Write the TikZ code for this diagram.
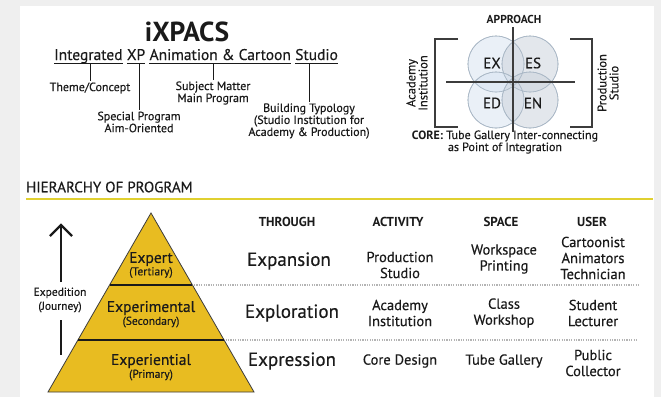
\documentclass[tikz,border=0pt]{standalone}
\usepackage{fontspec}
\setmainfont{PT Sans}[UprightFeatures={FakeBold=0.35}]
\usetikzlibrary{arrows.meta,calc}
\definecolor{bggray}{HTML}{EFEFEF}
\definecolor{ink}{HTML}{1A1A1A}
\definecolor{pyr}{HTML}{E8BC21}
\definecolor{yline}{HTML}{E0D030}
\definecolor{cblue}{HTML}{D9E5F2}
\definecolor{cgray}{HTML}{CDD4DD}
\definecolor{cedge}{HTML}{AAB8C6}
\definecolor{dotc}{HTML}{B4B4B4}
\begin{document}
\begin{tikzpicture}[x=1pt,y=-1pt,
  every node/.style={text=ink},
  word/.style={inner sep=0pt,font=\fontsize{15.5}{16}\selectfont,anchor=base west},
  sub/.style={align=center,inner sep=1.5pt,font=\fontsize{12}{12}\selectfont},
  circ/.style={draw=cedge,line width=0.6pt,fill opacity=0.55},
  quad/.style={font=\fontsize{15}{15}\selectfont},
  side/.style={rotate=90,align=center,font=\fontsize{12.5}{12}\selectfont},
  bracketline/.style={line width=1.1pt,draw=ink!85},
  lvl/.style={align=center,font=\fontsize{15.5}{15}\selectfont,inner sep=0pt},
  lvlsub/.style={font=\fontsize{11.5}{11}\selectfont,inner sep=0pt},
  hdr/.style={font=\bfseries\fontsize{13}{13}\selectfont},
  through/.style={font=\fontsize{19}{19}\selectfont},
  cell/.style={align=center,font=\fontsize{14.5}{16}\selectfont},
  dotline/.style={draw=dotc,line width=1.2pt,dash pattern=on 1.2pt off 1.2pt},
  divider/.style={line width=2pt,draw=ink},
]
\useasboundingbox (0,0) rectangle (661,397);
\fill[bggray] (0,0) rectangle (661,397);
\fill[white] (20,6) rectangle (654,397);

% ---------- title block ----------
\node[font=\bfseries\fontsize{27.5}{27}\selectfont,inner sep=0pt] (title) at (187,32) {iXPACS};
\node[word] (w1) at (54,60) {Integrated};
\node[word] (w2) at ([xshift=4pt]w1.base east) {XP};
\node[word] (w3) at ([xshift=4pt]w2.base east) {Animation \& Cartoon};
\node[word] (w4) at ([xshift=4pt]w3.base east) {Studio};
\foreach \w in {w1,w2,w3,w4}{
  \draw[line width=1pt,ink] ([yshift=-3pt]\w.base west) -- ([yshift=-3pt]\w.base east);
  \coordinate (u\w) at ([yshift=-3pt]\w.base);
}
\node[sub] (theme) at (90,88) {Theme/Concept};
\node[sub] (special) at (139,122) {Special Program\\Aim-Oriented};
\node[sub] (subject) at (213,93) {Subject Matter\\Main Program};
\node[sub] (building) at (309,121) {Building Typology\\(Studio Institution for\\Academy \& Production)};
\draw[line width=1pt,ink] (theme.north |- uw1) -- (theme.north);
\draw[line width=1pt,ink] (special.north |- uw2) -- (special.north);
\draw[line width=1pt,ink] (subject.north |- uw3) -- (subject.north);
\draw[line width=1pt,ink] (building.north |- uw4) -- (building.north);

% ---------- approach diagram ----------
\node[font=\bfseries\fontsize{11.5}{11}\selectfont] (approach) at (514,19) {APPROACH};
\coordinate (ctr) at (513,82);
\fill[circ,fill=cblue] ($(ctr)+(-17,-18)$) circle (28);
\fill[circ,fill=cgray] ($(ctr)+(17,-18)$) circle (28);
\fill[circ,fill=cblue] ($(ctr)+(-17,18)$) circle (28);
\fill[circ,fill=cgray] ($(ctr)+(17,18)$) circle (28);
\draw[cedge,line width=0.6pt] ($(ctr)+(-17,-18)$) circle (28) ($(ctr)+(17,-18)$) circle (28)
  ($(ctr)+(-17,18)$) circle (28) ($(ctr)+(17,18)$) circle (28);
\coordinate (vtop) at (513,27);
\coordinate (vbot) at (513,132);
\coordinate (hl) at (446,82);
\coordinate (hr) at (575,82);
\draw[line width=1.2pt,ink!85] (vtop) -- (vbot);
\draw[line width=1.2pt,ink!85] (hl) -- (hr);
\node[quad] (ex) at (492,63) {EX};
\node[quad] (es) at (533,63) {ES};
\node[quad] (ed) at (492,103) {ED};
\node[quad] (en) at (533,103) {EN};
\draw[bracketline] (458,39) -- (435,39) -- (435,127) -- (458,127);
\draw[bracketline] (570,39) -- (592,39) -- (592,127) -- (570,127);
\node[side] (acad) at (417,83) {Academy\\Institution};
\node[side] (prod) at (608,83) {Production\\Studio};
\node[align=center,font=\fontsize{12}{12}\selectfont] (core) at (505,142)
  {\textbf{CORE:} Tube Gallery Inter-connecting\\as Point of Integration};

% ---------- hierarchy ----------
\node[anchor=west,inner sep=0pt,font=\fontsize{15}{15}\selectfont] (hier) at (26,187) {HIERARCHY OF PROGRAM};
\draw[yline,line width=2.2pt] (26,199) -- (653,199);

\coordinate (apex) at (151,213);
\coordinate (bl) at (48,392);
\coordinate (br) at (254,392);
\fill[pyr] (apex) -- (bl) -- (br) -- cycle;
\draw[ink!85,line width=0.8pt] (apex) -- (bl) -- (br) -- cycle;
\coordinate (d1l) at ($(apex)!{72/179}!(bl)$);
\coordinate (d1r) at ($(apex)!{72/179}!(br)$);
\coordinate (d2l) at ($(apex)!{127/179}!(bl)$);
\coordinate (d2r) at ($(apex)!{127/179}!(br)$);
\draw[divider] (d1l) -- (d1r);
\draw[divider] (d2l) -- (d2r);
\coordinate (dotend) at (638,0);
\draw[dotline] ([xshift=1.5pt]d1r) -- (d1r -| dotend);
\draw[dotline] ([xshift=1.5pt]d2r) -- (d2r -| dotend);

\node[lvl] (expert) at (151,259) {Expert};
\node[lvlsub] (tert) at (151,272.5) {(Tertiary)};
\node[lvl] (experimental) at (151,308) {Experimental};
\node[lvlsub] (sec) at (151,322) {(Secondary)};
\node[lvl] (experiential) at (151,361) {Experiential};
\node[lvlsub] (prim) at (151,375) {(Primary)};

\node[align=center,font=\fontsize{11.5}{14}\selectfont] (exped) at (60,300) {Expedition\\(Journey)};
\coordinate (arrstart) at (61,282);
\coordinate (arrtop) at (61,225);
\coordinate (linetop) at (61,320);
\coordinate (arrbot) at (61,355);
\draw[line width=2.4pt,ink] (arrstart) -- ([yshift=1pt]arrtop);
\draw[line width=2.4pt,ink,line join=miter,line cap=butt] ([shift={(-11,11)}]arrtop) -- (arrtop) -- ([shift={(11,11)}]arrtop);
\draw[line width=2.4pt,ink] (linetop) -- (arrbot);

% table
\node[hdr] (hthrough) at (287,222) {THROUGH};
\node[hdr] (hactivity) at (398,222) {ACTIVITY};
\node[hdr] (hspace) at (501,222) {SPACE};
\node[hdr] (huser) at (592,222) {USER};

\node[through] (expansion) at (289,261) {Expansion};
\node[cell] (a1) at (400,265) {Production\\Studio};
\node[cell] (s1) at (504,259) {Workspace\\Printing};
\node[cell] (u1) at (593,258) {Cartoonist\\Animators\\Technician};

\node[through] (exploration) at (292,313) {Exploration};
\node[cell] (a2) at (400,313) {Academy\\Institution};
\node[cell] (s2) at (504,313) {Class\\Workshop};
\node[cell] (u2) at (593,313) {Student\\Lecturer};

\node[through] (expression) at (292,361) {Expression};
\node[cell] (a3) at (400,361) {Core Design};
\node[cell] (s3) at (504,361) {Tube Gallery};
\node[cell] (u3) at (593,363) {Public\\Collector};
\end{tikzpicture}
\end{document}
